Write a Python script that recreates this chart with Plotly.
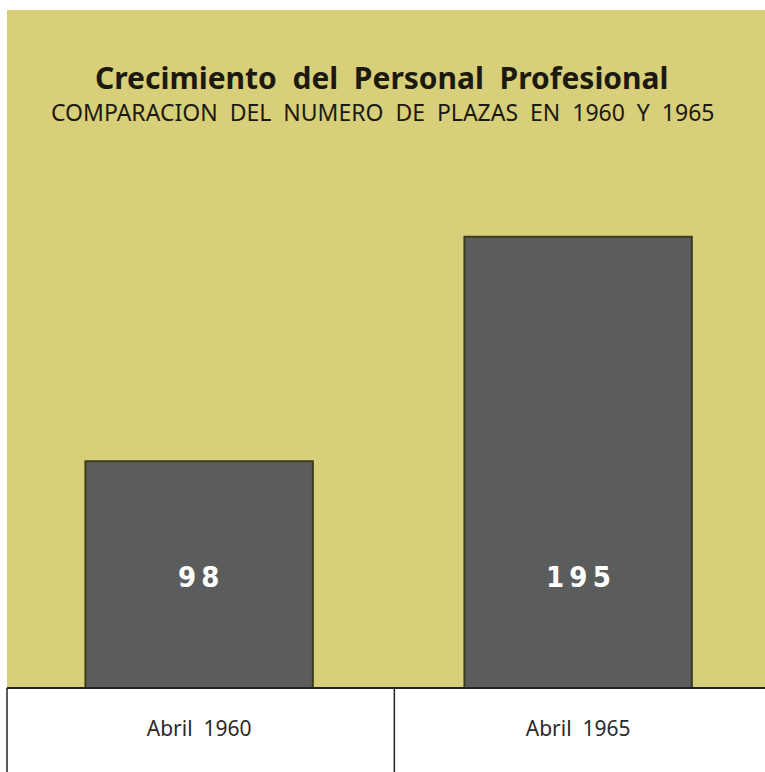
import plotly.graph_objects as go

categories = ["Abril 1960", "Abril 1965"]
plazas = [98, 195]

title_text = "Crecimiento del Personal Profesional"
subtitle_text = "COMPARACION DEL NUMERO DE PLAZAS EN 1960 Y 1965"

YELLOW = "#d8cf7a"
BAR = "#5b5d5d"
EDGE = "#3d3b1e"

def spaced(s):
    return s.replace(" ", "&nbsp;&nbsp;")

fig = go.Figure()
fig.add_trace(go.Bar(
    x=categories, y=plazas, width=0.6,
    marker=dict(color=BAR, line=dict(color=EDGE, width=2)),
    hoverinfo="skip", showlegend=False,
))

for c, v in zip(categories, plazas):
    fig.add_annotation(x=c, y=48, text="<b>" + "\u2009".join(str(v)) + "</b>", showarrow=False,
                       font=dict(family="DejaVu Sans Condensed", size=29, color="white"),
                       yanchor="middle")

fig.add_annotation(xref="paper", yref="paper", x=0.495, y=0.900, text=f"<b>{spaced(title_text)}</b>",
                   showarrow=False, font=dict(family="Noto Sans", size=30, color="#1c1a10"),
                   yanchor="middle")
fig.add_annotation(xref="paper", yref="paper", x=0.495, y=0.850, text=spaced(subtitle_text),
                   showarrow=False, font=dict(family="Noto Sans", size=23, color="#1c1a10"),
                   yanchor="middle")

# frame lines of the label strip
fig.add_shape(type="line", xref="paper", yref="paper", x0=0, x1=1, y0=0, y1=0,
              line=dict(color="#222", width=2))
fig.add_shape(type="line", xref="paper", yref="paper", x0=0, x1=0, y0=0, y1=-0.125,
              line=dict(color="#222", width=1.5))
fig.add_shape(type="line", xref="x", yref="paper", x0=0.515, x1=0.515, y0=0, y1=-0.125,
              line=dict(color="#222", width=1.5))

fig.update_layout(
    width=765, height=772,
    margin=dict(l=7, r=0, t=10, b=84),
    paper_bgcolor="white", plot_bgcolor=YELLOW,
    xaxis=dict(range=[-0.507, 1.493], showgrid=False, zeroline=False, showline=False,
               ticks="", tickfont=dict(family="Noto Sans", size=21, color="#2a2a2a"),
               ticklabelstandoff=26),
    yaxis=dict(range=[0, 293], visible=False, showgrid=False),
)
fig.update_xaxes(ticktext=[spaced(c) for c in categories], tickvals=categories)

post = ("document.body.style.margin='0';document.body.style.overflow='hidden';"
        "Plotly.relayout('{plot_id}', {width: 765, height: 772});")
fig.write_html("out.html", config={"responsive": False, "displayModeBar": False}, post_script=post)
